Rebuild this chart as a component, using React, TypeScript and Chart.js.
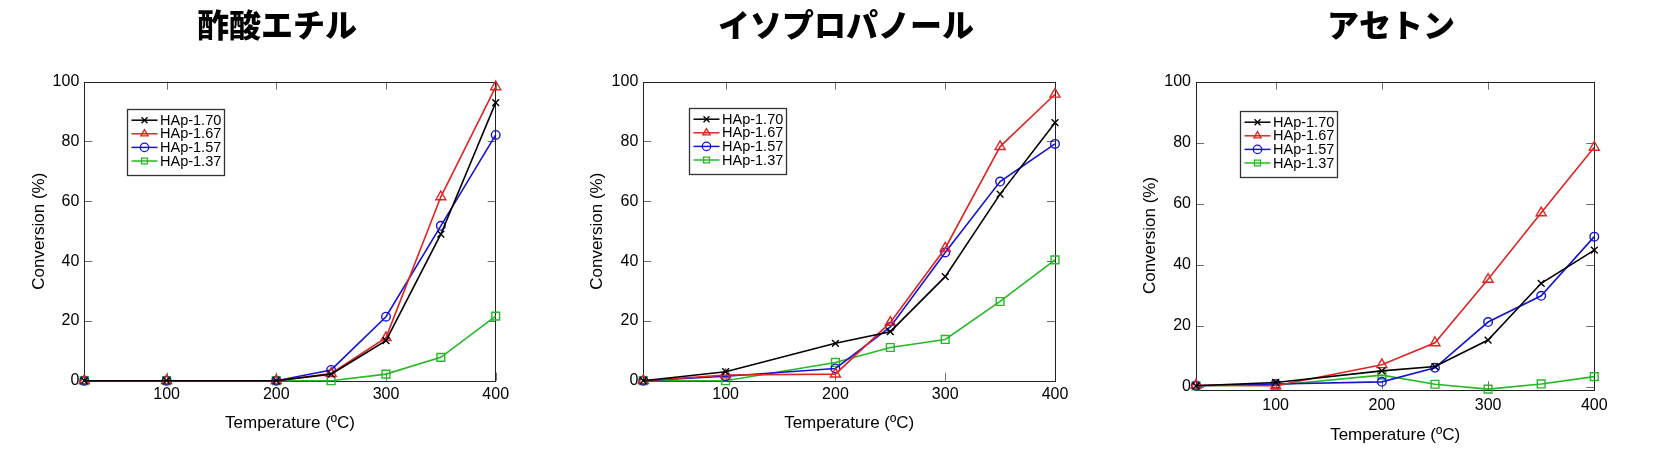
import React, { useEffect, useRef } from 'react';
import { Chart, registerables } from 'chart.js';

Chart.register(...registerables);

// ---------- data ----------
const temperatures = [25, 100, 200, 250, 300, 350, 400];
const seriesLabels = ['HAp-1.70', 'HAp-1.67', 'HAp-1.57', 'HAp-1.37'];
const xTickValues = [100, 200, 300, 400];
const yTickValues = [0, 20, 40, 60, 80, 100];
const chartTitles = ['酢酸エチル', 'イソプロパノール', 'アセトン'];
const xAxisTitle = 'Temperature (ºC)';
const yAxisTitle = 'Conversion (%)';

const ethylAcetate170 = [0, 0, 0, 2.2, 13.4, 49, 93];
const ethylAcetate167 = [0, 0, 0, 2.4, 14.4, 61.5, 98.3];
const ethylAcetate157 = [0, 0, 0, 3.6, 21.4, 51.8, 82.2];
const ethylAcetate137 = [0, 0, 0, 0, 2.2, 7.8, 21.6];

const isopropanol170 = [0, 3.0, 12.5, 16.4, 34.8, 62.4, 86.3];
const isopropanol167 = [0, 1.9, 2.2, 19.5, 44.3, 78.3, 95.8];
const isopropanol157 = [0, 1.5, 4.1, 18.0, 42.9, 66.6, 79.2];
const isopropanol137 = [0, 0, 6.1, 11.1, 13.8, 26.5, 40.4];

const acetone170 = [0.3, 1.4, 5.2, 6.6, 15.3, 33.9, 44.8];
const acetone167 = [0.5, 0.3, 7.2, 14.4, 35.2, 57.0, 78.5];
const acetone157 = [0.3, 0.9, 1.6, 6.2, 21.2, 29.8, 49.2];
const acetone137 = [0.3, 0.5, 3.8, 0.8, -0.8, 0.9, 3.3];

// ---------- styles ----------
const seriesColors = ['#000000', '#e02424', '#1414d2', '#26b826'];
const seriesMarkers = ['crossRot', 'triangle', 'circle', 'rect'];
const seriesRadius = [4.8, 5.8, 4.3, 5.5];

const panels = [
  {
    title: chartTitles[0],
    series: [ethylAcetate170, ethylAcetate167, ethylAcetate157, ethylAcetate137],
    left: 7, width: 540, yMin: 0,
    yAxisWidth: 77.3, rightWidth: 51.3, xAxisHeight: 77.3,
    yTitlePad: 21.8, yTickPad: 5, xTickPad: 4, xTitlePad: 24.5,
    legendDx: 42.4, legendDy: 27.6,
  },
  {
    title: chartTitles[1],
    series: [isopropanol170, isopropanol167, isopropanol157, isopropanol137],
    left: 576, width: 540, yMin: 0,
    yAxisWidth: 67.3, rightWidth: 61, xAxisHeight: 77.3,
    yTitlePad: 11.5, yTickPad: 5, xTickPad: 4, xTitlePad: 24.5,
    legendDx: 46, legendDy: 26,
  },
  {
    title: chartTitles[2],
    series: [acetone170, acetone167, acetone157, acetone137],
    left: 1126, width: 530, yMin: -0.85,
    yAxisWidth: 70, rightWidth: 61.7, xAxisHeight: 68.7,
    yTitlePad: 13.8, yTickPad: 5, xTickPad: 6.5, xTitlePad: 12.8,
    legendDx: 44, legendDy: 29.3,
  },
];

const FONT = "'Liberation Sans', Arial, Helvetica, sans-serif";

function drawMarker(ctx: CanvasRenderingContext2D, style: string, x: number, y: number, r: number) {
  ctx.beginPath();
  if (style === 'crossRot') {
    const d = r * Math.SQRT1_2;
    ctx.moveTo(x - d, y - d); ctx.lineTo(x + d, y + d);
    ctx.moveTo(x - d, y + d); ctx.lineTo(x + d, y - d);
  } else if (style === 'triangle') {
    ctx.moveTo(x, y - r);
    ctx.lineTo(x + r * Math.sin(Math.PI * 2 / 3), y - r * Math.cos(Math.PI * 2 / 3));
    ctx.lineTo(x + r * Math.sin(Math.PI * 4 / 3), y - r * Math.cos(Math.PI * 4 / 3));
    ctx.closePath();
  } else if (style === 'circle') {
    ctx.arc(x, y, r, 0, Math.PI * 2);
  } else {
    const s = r * Math.SQRT1_2;
    ctx.rect(x - s, y - s, 2 * s, 2 * s);
  }
  ctx.stroke();
}

const frameTicksPlugin = {
  id: 'frameTicks',
  beforeDatasetsDraw(chart: any) {
    const { ctx, chartArea: a, scales } = chart;
    const px = (v: number) => Math.round(v) + 0.5;
    ctx.save();
    ctx.lineWidth = 1;
    ctx.strokeStyle = '#6e6e6e';
    const tl = 8;
    ctx.beginPath();
    yTickValues.forEach((v) => {
      const y = px(scales.y.getPixelForValue(v));
      ctx.moveTo(a.left, y); ctx.lineTo(a.left + tl, y);
      ctx.moveTo(a.right, y); ctx.lineTo(a.right - tl, y);
    });
    xTickValues.forEach((v) => {
      const x = px(scales.x.getPixelForValue(v));
      ctx.moveTo(x, a.top); ctx.lineTo(x, a.top + tl);
      ctx.moveTo(x, a.bottom); ctx.lineTo(x, a.bottom - tl);
    });
    ctx.stroke();
    ctx.strokeStyle = '#222';
    ctx.strokeRect(px(a.left), px(a.top), Math.round(a.right - a.left), Math.round(a.bottom - a.top));
    ctx.restore();
  },
};

const boxLegendPlugin = {
  id: 'boxLegend',
  afterDatasetsDraw(chart: any, _args: any, opts: any) {
    const { ctx, chartArea: a } = chart;
    const bx = Math.round(a.left + opts.dx) + 0.5;
    const by = Math.round(a.top + opts.dy) + 0.5;
    const bw = 97;
    const bh = 66;
    ctx.save();
    ctx.fillStyle = '#ffffff';
    ctx.fillRect(bx, by, bw, bh);
    ctx.lineWidth = 1.3;
    ctx.strokeStyle = '#333';
    ctx.strokeRect(bx, by, bw, bh);
    chart.data.datasets.forEach((ds: any, i: number) => {
      const cy = by + 10.7 + i * 13.6;
      ctx.strokeStyle = ds.borderColor;
      ctx.lineWidth = 1.5;
      ctx.beginPath();
      ctx.moveTo(bx + 4, cy); ctx.lineTo(bx + 30, cy);
      ctx.stroke();
      ctx.lineWidth = 1.3;
      drawMarker(ctx, ds.pointStyle, bx + 17, cy, Math.min(ds.pointRadius, 4.2));
      ctx.fillStyle = '#000';
      ctx.font = `14.5px ${FONT}`;
      ctx.textBaseline = 'middle';
      ctx.textAlign = 'left';
      ctx.fillText(ds.label, bx + 32.5, cy + 0.5);
    });
    ctx.restore();
  },
};

function Panel({ cfg }: { cfg: any }) {
  const ref = useRef<HTMLCanvasElement | null>(null);
  useEffect(() => {
    if (!ref.current) return;
    const chart = new Chart(ref.current, {
      type: 'line',
      data: {
        datasets: cfg.series.map((vals: number[], i: number) => ({
          label: seriesLabels[i],
          data: temperatures.map((t, j) => ({ x: t, y: vals[j] })),
          borderColor: seriesColors[i],
          backgroundColor: 'rgba(0,0,0,0)',
          borderWidth: 1.6,
          pointStyle: seriesMarkers[i],
          pointRadius: seriesRadius[i],
          pointBorderWidth: 1.4,
          pointBorderColor: seriesColors[i],
          pointBackgroundColor: 'rgba(0,0,0,0)',
          tension: 0,
          clip: false,
        })),
      },
      options: {
        animation: false,
        responsive: false,
        maintainAspectRatio: false,
        layout: { padding: 0 },
        font: { family: FONT },
        plugins: {
          legend: { display: false },
          tooltip: { enabled: false },
          title: {
            display: true,
            text: cfg.title,
            color: '#000',
            font: { family: "'Noto Sans CJK JP', 'Noto Sans CJK SC', sans-serif", size: 32, weight: '900' },
            padding: { top: 5.8, bottom: 37.5 },
          },
          boxLegend: { dx: cfg.legendDx, dy: cfg.legendDy },
        } as any,
        scales: {
          x: {
            type: 'linear',
            min: 25,
            max: 400,
            afterBuildTicks: (s: any) => { s.ticks = xTickValues.map((v) => ({ value: v })); },
            afterFit: (s: any) => { s.height = cfg.xAxisHeight; },
            grid: { display: false, drawTicks: false },
            border: { display: false },
            ticks: { padding: cfg.xTickPad, color: '#000', font: { size: 16, family: FONT }, maxRotation: 0, autoSkip: false },
            title: { display: true, text: xAxisTitle, color: '#000', font: { size: 17, family: FONT }, padding: { top: 0, bottom: cfg.xTitlePad } },
          },
          y: {
            type: 'linear',
            position: 'left',
            min: cfg.yMin,
            max: 100,
            afterBuildTicks: (s: any) => { s.ticks = yTickValues.map((v) => ({ value: v })); },
            afterFit: (s: any) => { s.width = cfg.yAxisWidth; },
            grid: { display: false, drawTicks: false },
            border: { display: false },
            ticks: { padding: cfg.yTickPad, color: '#000', font: { size: 16, family: FONT }, autoSkip: false },
            title: { display: true, text: yAxisTitle, color: '#000', font: { size: 17, family: FONT }, padding: { top: cfg.yTitlePad, bottom: 0 } },
          },
          yRight: {
            type: 'linear',
            position: 'right',
            min: cfg.yMin,
            max: 100,
            afterFit: (s: any) => { s.width = cfg.rightWidth; },
            grid: { display: false, drawTicks: false },
            border: { display: false },
            ticks: { display: false },
          },
        },
      } as any,
      plugins: [frameTicksPlugin, boxLegendPlugin],
    });
    return () => chart.destroy();
  }, [cfg]);
  return (
    <canvas
      ref={ref}
      width={cfg.width}
      height={458}
      style={{ position: 'absolute', left: cfg.left, top: 0, width: cfg.width, height: 458 }}
    />
  );
}

export default function App() {
  return (
    <div style={{ position: 'absolute', left: 0, top: 0, width: 1660, height: 458, background: '#fff', overflow: 'hidden' }}>
      {panels.map((p, i) => (
        <Panel key={i} cfg={p} />
      ))}
    </div>
  );
}
